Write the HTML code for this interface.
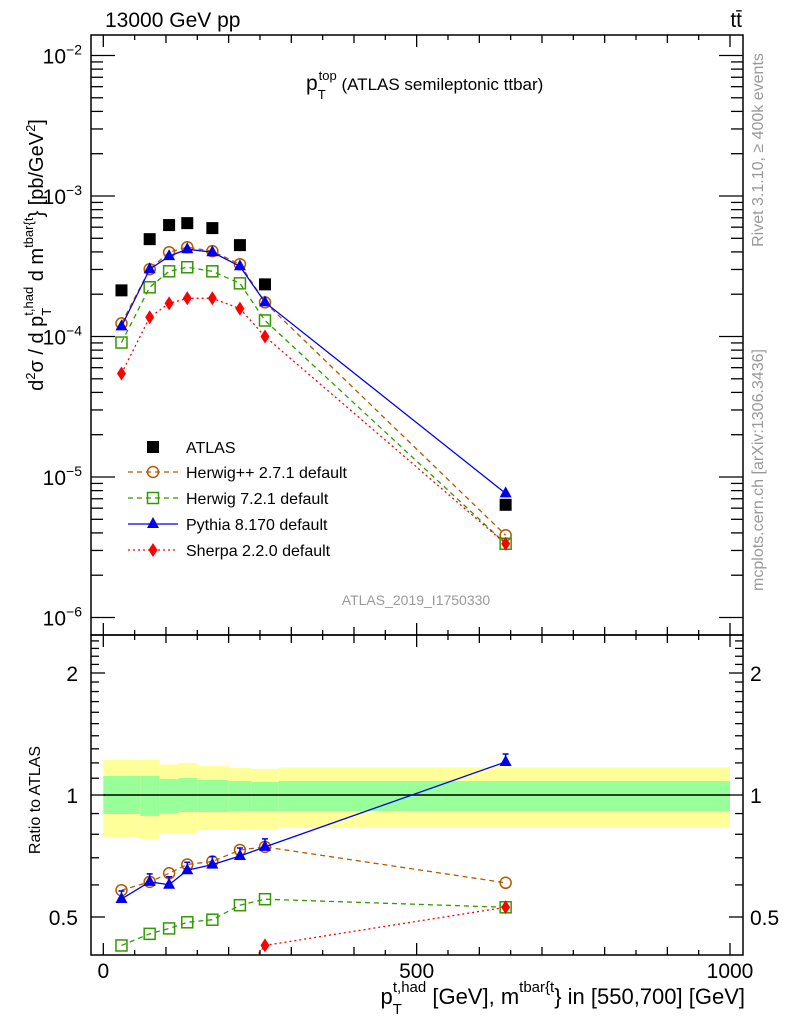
<!DOCTYPE html>
<html><head><meta charset="utf-8"><style>
body{margin:0;background:#fff;}
svg{display:block;font-family:"Liberation Sans",sans-serif;}
</style></head><body>
<svg id="c" width="786" height="1024" viewBox="0 0 786 1024" xmlns="http://www.w3.org/2000/svg">
<g id="bands"></g>
<g id="marks"></g>
<g id="axes" stroke="#000" fill="none"></g>
<g id="labels"></g>
</svg>
<script>
const xVals=[29,74,105,134,174,218,258,642];
const atlas=[2.13e-4,4.93e-4,6.21e-4,6.41e-4,5.91e-4,4.47e-4,2.35e-4,6.34e-6];
const herwigpp=[1.24e-4,3.01e-4,3.98e-4,4.32e-4,4.05e-4,3.27e-4,1.75e-4,3.85e-6];
const herwig7=[9.06e-5,2.24e-4,2.91e-4,3.11e-4,2.91e-4,2.39e-4,1.30e-4,3.35e-6];
const pythia=[1.18e-4,3.01e-4,3.73e-4,4.18e-4,3.98e-4,3.16e-4,1.75e-4,7.65e-6];
const sherpa=[5.45e-5,1.37e-4,1.72e-4,1.87e-4,1.87e-4,1.58e-4,1.0e-4,3.35e-6];
const binEdges=[0,59,90,120,150,200,237,280,1000];
const yellowHi=[1.22,1.22,1.19,1.2,1.18,1.166,1.16,1.17];
const yellowLo=[0.788,0.779,0.806,0.806,0.82,0.824,0.824,0.829];
const greenHi=[1.114,1.114,1.095,1.101,1.089,1.083,1.077,1.083];
const greenLo=[0.898,0.888,0.903,0.908,0.908,0.913,0.913,0.913];
const mainTicks=["10","10","10","10","10"];
const mainExp=[-2,-3,-4,-5,-6];
const ratioTicks=[2,1,0.5];
const xTicks=[0,500,1000];

const NS="http://www.w3.org/2000/svg";
const L=91,R=743,T=35,MID=635,B=955;
const sx=v=>103.3+v*0.6267;
const sy=v=>55.5-(Math.log10(v)+2)*140.5;
const ry=v=>795-122*Math.log2(v);
function mk(p,tag,a){const e=document.createElementNS(NS,tag);for(const k in a)e.setAttribute(k,a[k]);document.getElementById(p).appendChild(e);return e;}

for(let i=0;i<binEdges.length-1;i++){
 const x1=sx(binEdges[i]),x2=sx(binEdges[i+1]);
 let e=mk('bands','rect',{x:x1,y:ry(yellowHi[i]),width:x2-x1,height:ry(yellowLo[i])-ry(yellowHi[i]),fill:'#ffff99'});
 
 
 e=mk('bands','rect',{x:x1,y:ry(greenHi[i]),width:x2-x1,height:ry(greenLo[i])-ry(greenHi[i]),fill:'#99ff99'});
 
 
}
let ln=mk('bands','line',{x1:sx(0),x2:sx(1000),y1:ry(1),y2:ry(1),stroke:'#000','stroke-width':1.5});



const series=[
 {d:herwigpp,c:'#b35900',dash:'5,4',m:'circle',n:'herwigpp'},
 {d:herwig7,c:'#339900',dash:'5,4',m:'square',n:'herwig7'},
 {d:pythia,c:'#0000ee',dash:'',m:'tri',n:'pythia'},
 {d:sherpa,c:'#ff0000',dash:'2,3',m:'diamond',n:'sherpa'}];
function marker(x,y,s,name){
 let e;
 if(s.m==='circle')e=mk('marks','circle',{cx:x,cy:y,r:5.5,fill:'none',stroke:s.c,'stroke-width':1.5});
 else if(s.m==='square')e=mk('marks','rect',{x:x-5.5,y:y-5.5,width:11,height:11,fill:'none',stroke:s.c,'stroke-width':1.5});
 else if(s.m==='tri')e=mk('marks','polygon',{points:`${x},${y-7} ${x-6},${y+4} ${x+6},${y+4}`,fill:s.c});
 else e=mk('marks','polygon',{points:`${x},${y-7} ${x-4.5},${y} ${x},${y+7} ${x+4.5},${y}`,fill:s.c});
 
 
}
const cm=mk('marks','clipPath',{id:'cm'});const cmr=document.createElementNS(NS,'rect');
cmr.setAttribute('x',L);cmr.setAttribute('y',T);cmr.setAttribute('width',R-L);cmr.setAttribute('height',MID-T);cm.appendChild(cmr);
const cr=mk('marks','clipPath',{id:'cr'});const crr=document.createElementNS(NS,'rect');
crr.setAttribute('x',L);crr.setAttribute('y',MID);crr.setAttribute('width',R-L);crr.setAttribute('height',B-MID);cr.appendChild(crr);

series.forEach(s=>{
 let pts=s.d.map((v,i)=>sx(xVals[i])+','+sy(v)).join(' ');
 let e=mk('marks','polyline',{points:pts,fill:'none',stroke:s.c,'stroke-width':1.3,'stroke-dasharray':s.dash,'clip-path':'url(#cm)'});
 
 
 s.d.forEach((v,i)=>marker(sx(xVals[i]),sy(v),s,s.n+'-point'));
 const rat=s.d.map((v,i)=>v/atlas[i]);
 pts=rat.map((v,i)=>sx(xVals[i])+','+ry(v)).join(' ');
 e=mk('marks','polyline',{points:pts,fill:'none',stroke:s.c,'stroke-width':1.3,'stroke-dasharray':s.dash,'clip-path':'url(#cr)'});
 
 
 rat.forEach((v,i)=>{const y=ry(v);if(y>MID+5&&y<B-5){
   if(s.m==='tri'){const eb=mk('marks','path',{d:`M${sx(xVals[i])},${y-8}v8M${sx(xVals[i])-3},${y-8}h6`,stroke:s.c,'stroke-width':1.5,fill:'none'});
     
     }
   marker(sx(xVals[i]),y,s,s.n+'-ratio-point');}});
});
atlas.forEach((v,i)=>{
 const e=mk('marks','rect',{x:sx(xVals[i])-6,y:sy(v)-6,width:12,height:12,fill:'#000'});
 
 
});

mk('axes','rect',{x:L,y:T,width:R-L,height:MID-T,'stroke-width':1.5});
mk('axes','rect',{x:L,y:MID,width:R-L,height:B-MID,'stroke-width':1.5});
function tick(x1,y1,x2,y2){mk('axes','line',{x1,y1,x2,y2,'stroke-width':1.3});}
for(let v=0;v<=1000;v+=50){const x=sx(v);const len=v%500===0?12:(v%100===0?8:5);
 [[T,1],[MID,-1],[MID,1],[B,-1]].forEach(([y,d])=>tick(x,y,x,y+d*len));}
for(let e=-6;e<=-2;e++){for(let k=1;k<10;k++){const v=k*Math.pow(10,e);const y=sy(v);if(y<T||y>MID)continue;
 const len=k===1?24:12;tick(L,y,L+len,y);tick(R,y,R-len,y);}}
for(let v=0.4;v<=2.5;v+=0.1){const y=ry(v);if(y<MID||y>B)continue;const maj=[0.5,1,2].some(t=>Math.abs(t-v)<1e-6);
 tick(L,y,L+(maj?14:8),y);tick(R,y,R-(maj?14:8),y);}

function txt(x,y,s,size,anchor,name,extra){const e=mk('labels','text',Object.assign({x,y,'font-size':size,'text-anchor':anchor||'start',fill:'#000'},extra||{}));e.innerHTML=s;
 
 return e;}
mainExp.forEach((e,i)=>{txt(82,sy(Math.pow(10,e))+8,mainTicks[i]+`<tspan dy="-9" font-size="14">−${-e}</tspan>`,21,'end','y-tick-label');});
ratioTicks.forEach(v=>{txt(78,ry(v)+8,String(v),21,'end','ratio-tick-label');txt(750,ry(v)+8,String(v),21,'start','ratio-tick-label-right');});
xTicks.forEach(v=>txt(sx(v),978,String(v),21,'middle','x-tick-label'));
txt(105,27,'13000 GeV pp',21,'start','title-energy');
txt(742,27,'tt̄',21,'end','title-process');
txt(306,90,'p<tspan dy="9" font-size="13">T</tspan><tspan dy="-19" dx="-7" font-size="13">top</tspan><tspan dy="10" font-size="17"> (ATLAS semileptonic ttbar)</tspan>',21,'start','plot-title');
txt(416,605,'ATLAS_2019_I1750330',14,'middle','analysis-id',{fill:'#999'});
txt(0,0,'d<tspan dy="-8" font-size="13">2</tspan><tspan dy="8">σ / d p</tspan><tspan dy="8" font-size="13">T</tspan><tspan dy="-18" dx="-8" font-size="13">t,had</tspan><tspan dy="10"> d m</tspan><tspan dy="-10" font-size="13">tbar{t</tspan><tspan dy="10">} [pb/GeV</tspan><tspan dy="-8" font-size="13">2</tspan><tspan dy="8">]</tspan>',20,'middle','y-axis-title',{transform:'translate(43,255) rotate(-90)'});
txt(0,0,'Ratio to ATLAS',16,'middle','ratio-axis-title',{transform:'translate(40,800) rotate(-90)'});
txt(745,1004,'p<tspan dy="10" font-size="15">T</tspan><tspan dy="-22" dx="-9" font-size="15">t,had</tspan><tspan dy="12"> [GeV], m</tspan><tspan dy="-12" font-size="15">tbar{t</tspan><tspan dy="12">} in [550,700] [GeV]</tspan>',22,'end','x-axis-title');
txt(0,0,'Rivet 3.1.10, ≥ 400k events',16,'middle','rivet-label',{fill:'#999',transform:'translate(763,150) rotate(-90)'});
txt(0,0,'mcplots.cern.ch [arXiv:1306.3436]',16,'middle','mcplots-label',{fill:'#999',transform:'translate(763,470) rotate(-90)'});

const legY=[447,472,498,524,550];
const legN=['ATLAS','Herwig++ 2.7.1 default','Herwig 7.2.1 default','Pythia 8.170 default','Sherpa 2.2.0 default'];
let e=mk('marks','rect',{x:147,y:legY[0]-6,width:12,height:12,fill:'#000'});


series.forEach((s,i)=>{const y=legY[i+1];
 const l=mk('marks','line',{x1:128,x2:178,y1:y,y2:y,stroke:s.c,'stroke-width':1.3,'stroke-dasharray':s.dash});
 
 
 marker(153,y,s,'legend-marker');});
legN.forEach((n,i)=>txt(186,legY[i]+6,n,16,'start','legend-entry'));
</script>
</body></html>
